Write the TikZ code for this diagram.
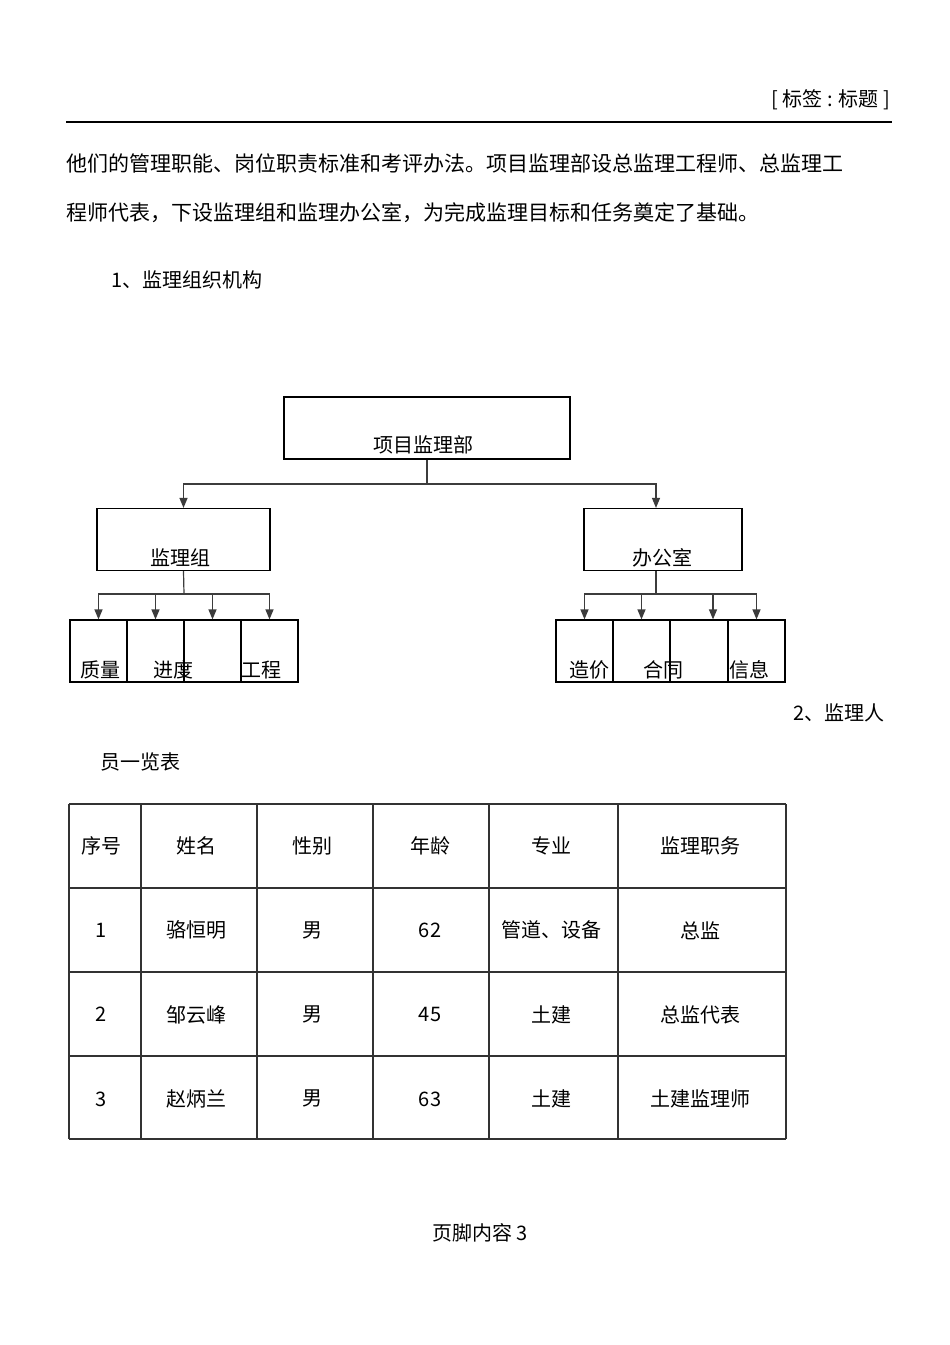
\documentclass[tikz,border=0pt]{standalone}
\usepackage{fontspec}
\setmainfont{Noto Sans CJK SC}
\usepackage{xcolor}
\usetikzlibrary{arrows.meta,calc}
\definecolor{wire}{RGB}{60,60,60}
\definecolor{gridc}{RGB}{50,50,50}
\tikzset{
  box/.style={draw=black,line width=1.2pt,inner sep=0pt},
  cell/.style={box,minimum width=57,minimum height=62},
  lbl/.style={inner sep=0pt,font=\fontsize{20}{24}\selectfont},
  para/.style={inner sep=0pt,font=\fontsize{21}{25}\selectfont},
  wire/.style={draw=wire,line width=1.2pt},
  arr/.style={wire,-{Triangle[width=8pt,length=10pt]}},
  gridline/.style={draw=gridc,line width=1.1pt}
}

\begin{document}
\begin{tikzpicture}[x=1pt,y=-1pt]
\useasboundingbox[fill=white] (0,0) rectangle (950,1345);
% header
\node[lbl,anchor=east] (tag) at (890,100) {[ 标签 : 标题 ]};
\draw[line width=1.2pt] (66,122) -- (892,122);
\node[para,anchor=west] (p1) at (66,163) {他们的管理职能、岗位职责标准和考评办法。项目监理部设总监理工程师、总监理工};
\node[para,anchor=west] (p2) at (66,213) {程师代表，下设监理组和监理办公室，为完成监理目标和任务奠定了基础。};
\node[lbl,anchor=west] (h1) at (111,280) {1、监理组织机构};
% org chart
\node[box,minimum width=286,minimum height=62] (top) at (427,428) {};
\node[lbl] (topt) at (423,445) {项目监理部};
\node[box,minimum width=173,minimum height=62] (grp) at (183.5,539.5) {};
\node[lbl] (grpt) at (180,558) {监理组};
\node[box,minimum width=158,minimum height=62] (off) at (663,539.5) {};
\node[lbl] (offt) at (662,558) {办公室};
\coordinate (jtop) at (427,484);
\draw[wire] (top.south) -- (jtop);
\draw[arr] (jtop) -| (grp.north);
\draw[arr] (jtop) -| ($(off.north)+(-7,0)$);
% group boxes
\foreach \x [count=\i] in {98.5,155.5,212.5,269.5}
  \node[cell] (g\i) at (\x,651) {};
\node[lbl] (gt1) at (100,670) {质量};
\node[lbl] (gt2) at (173,670) {进度};
\node[lbl] (gt4) at (261,670) {工程};
\coordinate (jg) at (184,594);
\draw[wire] (grp.south) -- (jg);
\foreach \i in {1,...,4}
  \draw[arr] (jg) -| (g\i.north);
% office boxes
\foreach \x [count=\i] in {584.5,641.5,699,756.5}
  \node[cell] (o\i) at (\x,651) {};
\node[lbl] (ot1) at (589,670) {造价};
\node[lbl] (ot2) at (663,670) {合同};
\node[lbl] (ot4) at (749,670) {信息};
\coordinate (jo) at (656,594);
\draw[wire] ($(off.south)+(-7,0)$) -- (jo);
\foreach \i/\dx in {1/0,2/0,3/14,4/0}
  \draw[arr] (jo) -| ($(o\i.north)+(\dx,0)$);
% staff table
\node[lbl,anchor=east] (h2a) at (885,713) {2、监理人};
\node[lbl,anchor=west] (h2b) at (100,762) {员一览表};
\foreach \x in {69,141,257,373,489,618,786}
  \draw[gridline] (\x,804) -- (\x,1139);
\foreach \y in {804,888,972,1056,1139}
  \draw[gridline] (69,\y) -- (786,\y);
\foreach \r/\a/\b/\c/\d/\e/\f in {1/序号/姓名/性别/年龄/专业/监理职务,
    2/1/骆恒明/男/62/管道、设备/总监,
    3/2/邹云峰/男/45/土建/总监代表,
    4/3/赵炳兰/男/63/土建/土建监理师}{
  \pgfmathsetmacro\ry{846+(\r-1)*84.3}
  \node[lbl] (t\r-1) at (101,\ry) {\a};
  \node[lbl] (t\r-2) at (196,\ry) {\b};
  \node[lbl] (t\r-3) at (312,\ry) {\c};
  \node[lbl] (t\r-4) at (430,\ry) {\d};
  \node[lbl] (t\r-5) at (551,\ry) {\e};
  \node[lbl] (t\r-6) at (700,\ry) {\f};
}
% footer
\node[lbl] (foot) at (480,1233) {页脚内容 3};
\end{tikzpicture}
\end{document}
